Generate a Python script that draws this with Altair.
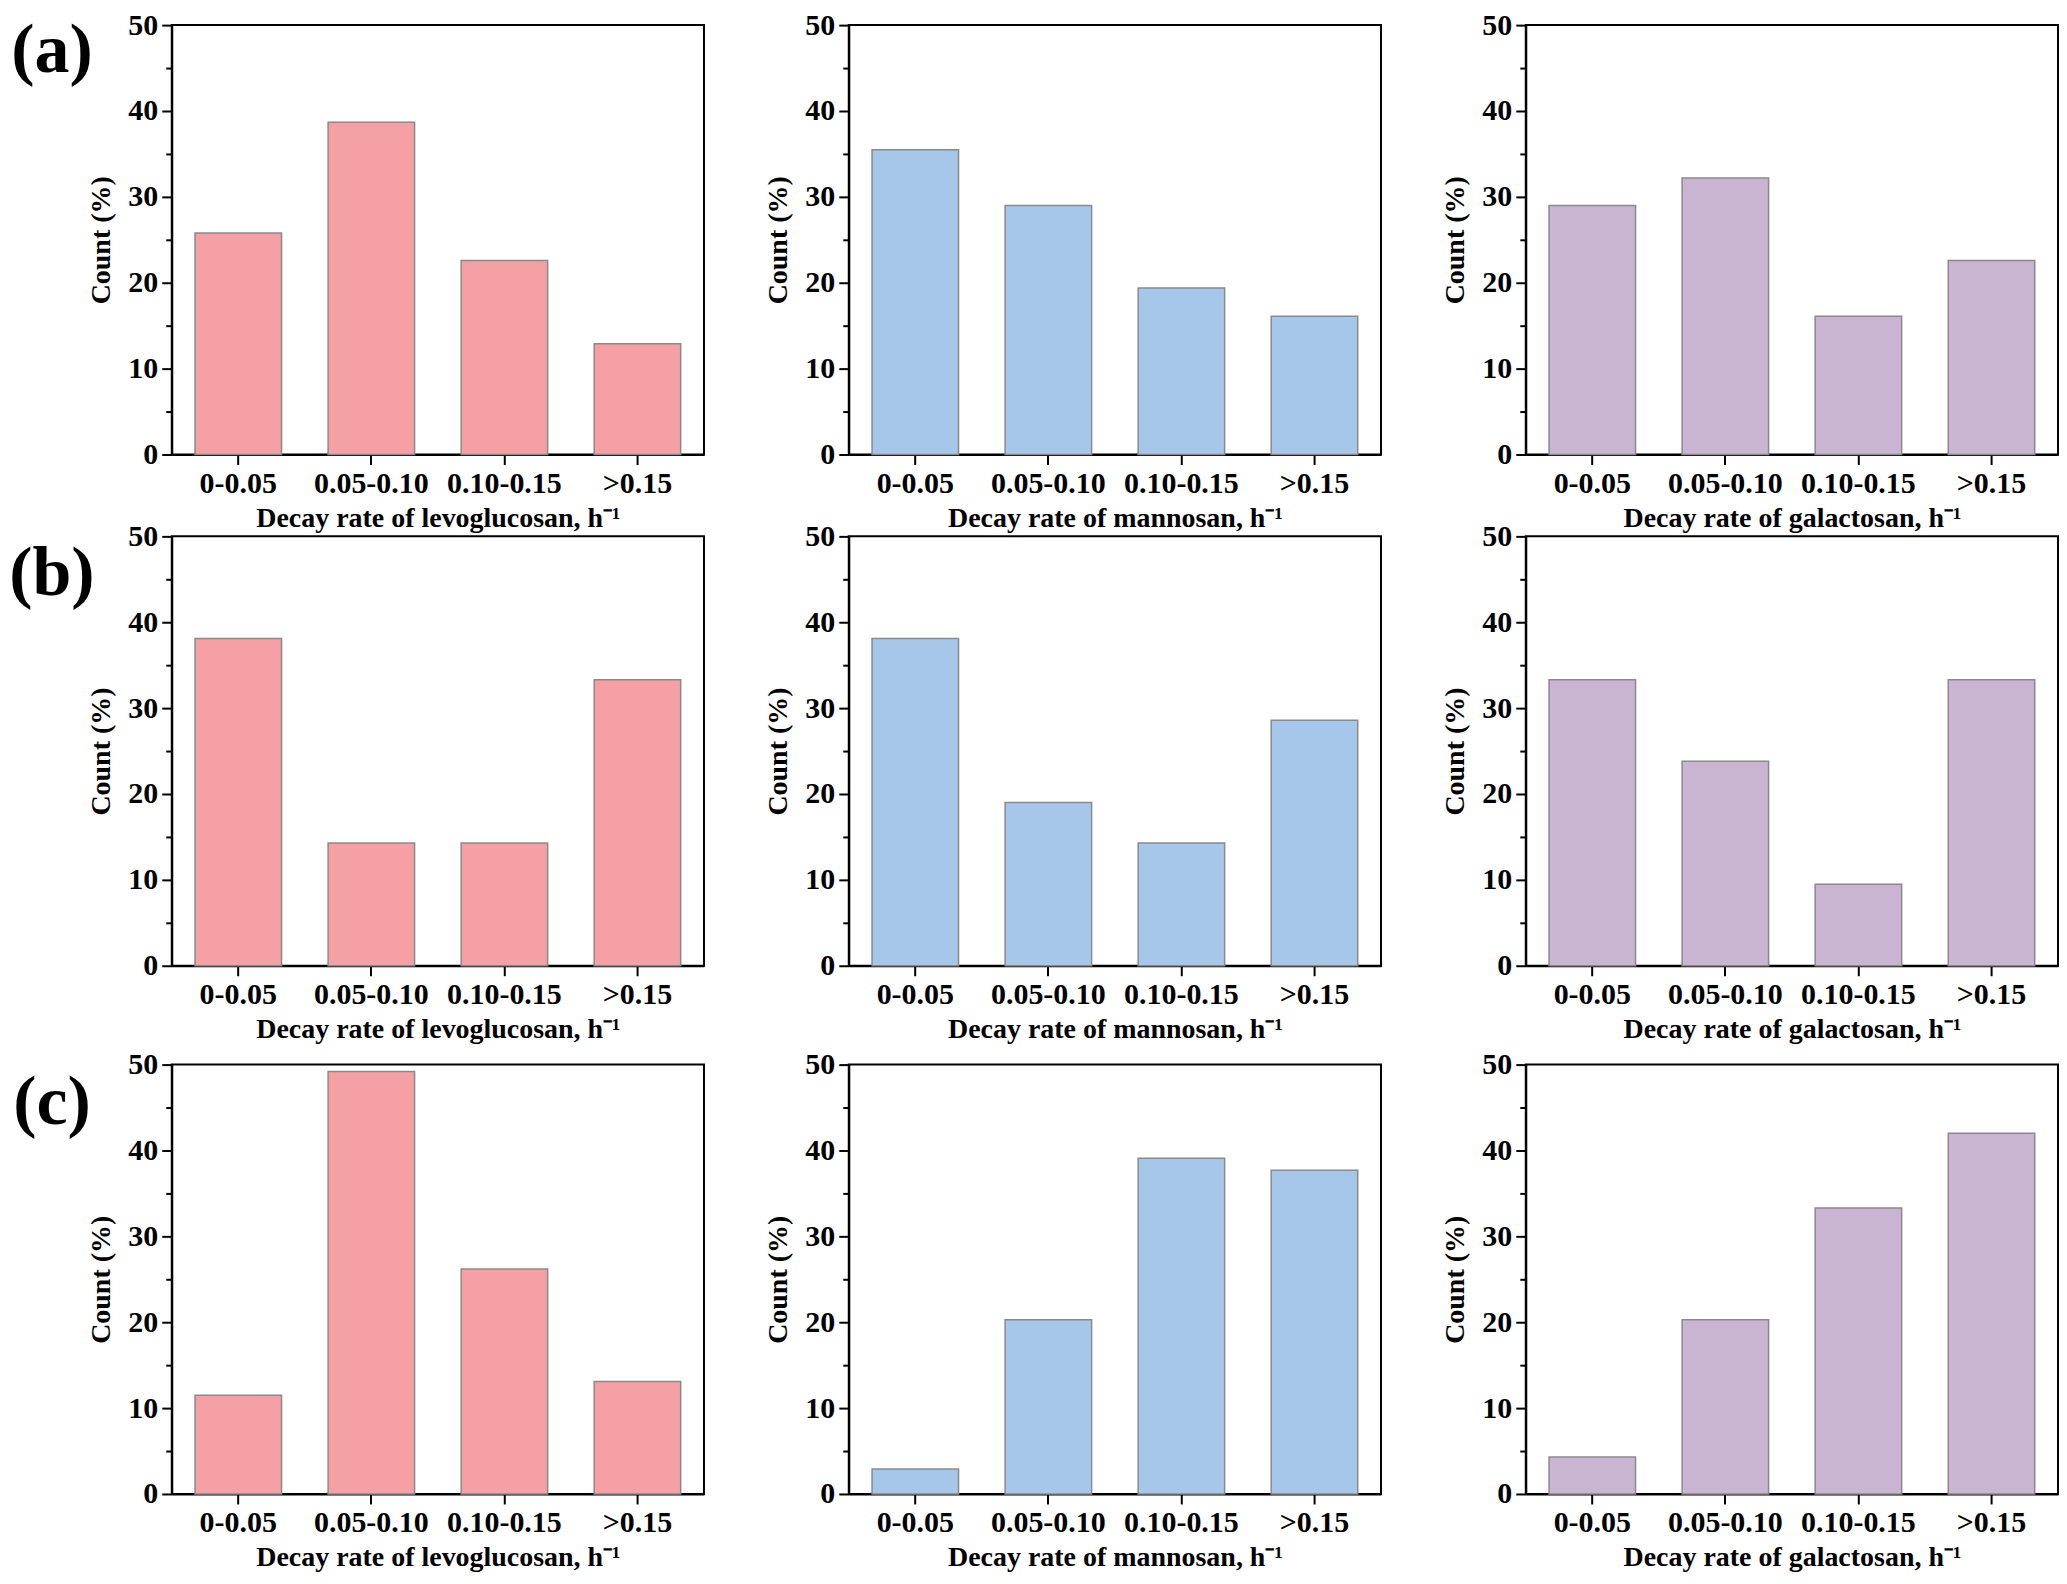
import altair as alt
import pandas as pd

bins = ["0-0.05", "0.05-0.10", "0.10-0.15", ">0.15"]
sugars = ["levoglucosan", "mannosan", "galactosan"]
colors = ["#F4A0A4", "#A6C6EA", "#C9B4D2"]
row_labels = ["(a)", "(b)", "(c)"]

a_levo = [25.8, 38.7, 22.6, 12.9]
a_mann = [35.5, 29.0, 19.4, 16.1]
a_gala = [29.0, 32.2, 16.1, 22.6]
b_levo = [38.1, 14.3, 14.3, 33.3]
b_mann = [38.1, 19.0, 14.3, 28.6]
b_gala = [33.3, 23.8, 9.5, 33.3]
c_levo = [11.5, 49.2, 26.2, 13.1]
c_mann = [2.9, 20.3, 39.1, 37.7]
c_gala = [4.3, 20.3, 33.3, 42.0]

rows = [[a_levo, a_mann, a_gala], [b_levo, b_mann, b_gala], [c_levo, c_mann, c_gala]]

FONT = "Liberation Serif"
W, H = 533, 430
LABEL_Y = [26, 38, 38]


def panel(values, sugar, color, label=None, label_y=30):
    df = pd.DataFrame({"bin": bins, "value": values})
    bars = alt.Chart(df).mark_bar(color=color, stroke="#8a8a8a", strokeWidth=1.5).encode(
        x=alt.X(
            "bin:N",
            sort=bins,
            scale=alt.Scale(paddingInner=0.35, paddingOuter=0.175),
            axis=alt.Axis(
                title=f"Decay rate of {sugar}, h\u207b\u00b9",
                labelAngle=0,
                tickSize=10,
                labelPadding=4,
                titlePadding=6,
            ),
        ),
        y=alt.Y(
            "value:Q",
            scale=alt.Scale(domain=[0, 50], nice=False),
            axis=alt.Axis(
                title="Count (%)",
                values=list(range(0, 51, 5)),
                labelExpr="datum.value % 10 === 0 ? datum.label : ''",
                tickSize={"condition": {"test": "datum.value % 10 === 0", "value": 10}, "value": 6},
                labelPadding=4,
                titlePadding=12,
            ),
        ),
    )
    layers = [bars]
    if label:
        tdf = pd.DataFrame({"t": [label]})
        txt = alt.Chart(tdf).mark_text(
            font=FONT, fontWeight="bold", fontSize=70, align="center", baseline="middle"
        ).encode(x=alt.value(-120), y=alt.value(label_y), text="t:N")
        layers.append(txt)
    return alt.layer(*layers).properties(width=W, height=H)


row_charts = []
for r, vals in enumerate(rows):
    panels = [
        panel(vals[i], sugars[i], colors[i], row_labels[r] if i == 0 else None, LABEL_Y[r])
        for i in range(3)
    ]
    row_charts.append(alt.hconcat(*panels, spacing=145, bounds="flush"))

top_two = alt.vconcat(row_charts[0], row_charts[1], spacing=-13)

chart = (
    alt.vconcat(top_two, row_charts[2], spacing=4)
    .properties(padding=0)
    .configure_view(stroke="black", strokeWidth=2)
    .configure_axis(
        grid=False,
        domainColor="black",
        domainWidth=2,
        tickColor="black",
        tickWidth=2,
        labelFont=FONT,
        labelFontWeight="bold",
        labelFontSize=30,
        labelColor="black",
        titleFont=FONT,
        titleFontWeight="bold",
        titleFontSize=28,
        titleColor="black",
    )
)

chart.save("out.html", embed_options={"renderer": "svg", "actions": False})
